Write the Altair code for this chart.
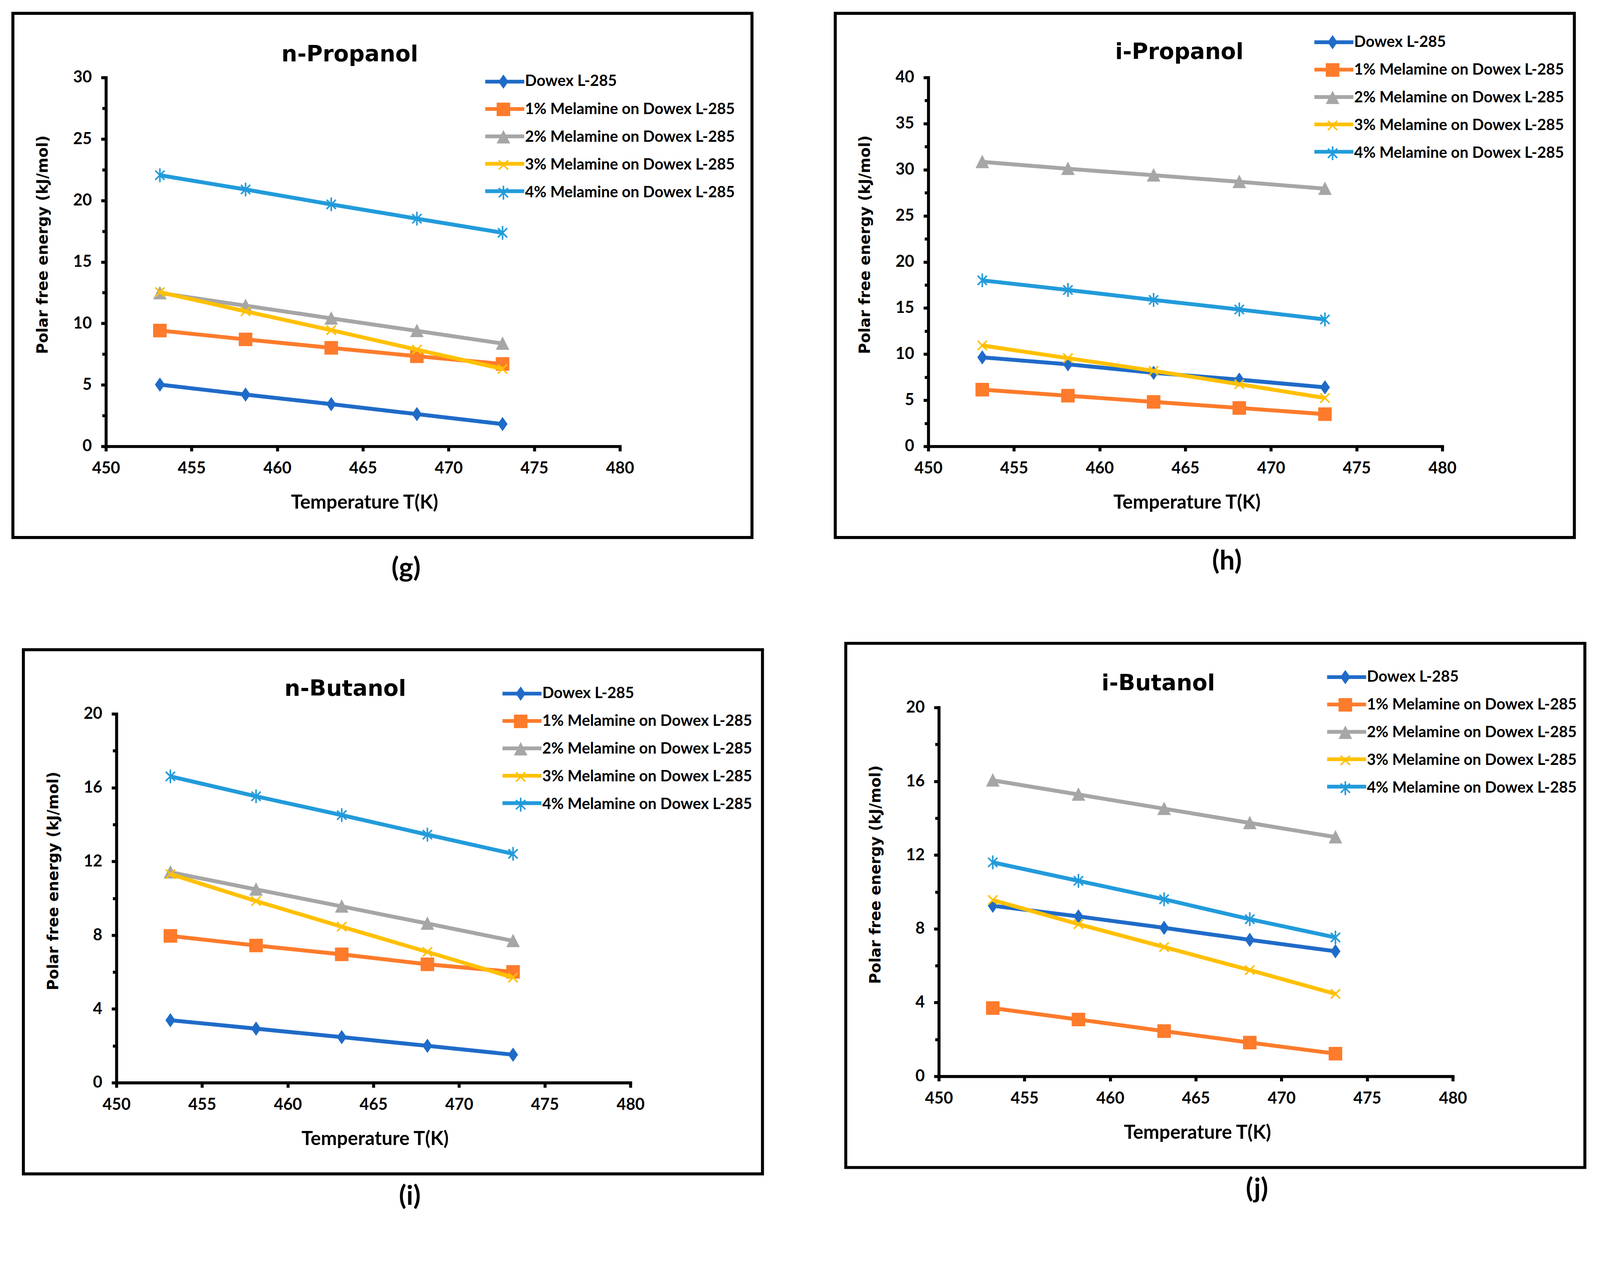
import math
import altair as alt
import pandas as pd

# ---------------- data ----------------
T = [453.15, 458.15, 463.15, 468.15, 473.15]
SERIES = ["Dowex L-285",
          "1% Melamine on Dowex L-285",
          "2% Melamine on Dowex L-285",
          "3% Melamine on Dowex L-285",
          "4% Melamine on Dowex L-285"]
CODES = ["s0", "s1", "s2", "s3", "s4"]
COLORS = ["#1F6BC8", "#FD7B2B", "#A6A6A6", "#FFC000", "#229BDB"]

n_propanol_dowex = [5.02, 4.21, 3.43, 2.62, 1.81]
n_propanol_1 = [9.42, 8.70, 8.01, 7.33, 6.70]
n_propanol_2 = [12.47, 11.44, 10.41, 9.39, 8.36]
n_propanol_3 = [12.54, 10.98, 9.45, 7.86, 6.30]
n_propanol_4 = [22.05, 20.89, 19.68, 18.52, 17.37]

i_propanol_dowex = [9.65, 8.90, 7.98, 7.23, 6.40]
i_propanol_1 = [6.15, 5.49, 4.82, 4.16, 3.49]
i_propanol_2 = [30.85, 30.10, 29.40, 28.69, 27.94]
i_propanol_3 = [10.94, 9.56, 8.19, 6.74, 5.24]
i_propanol_4 = [18.00, 16.96, 15.88, 14.84, 13.76]

n_butanol_dowex = [3.39, 2.93, 2.47, 2.00, 1.52]
n_butanol_1 = [7.96, 7.44, 6.96, 6.42, 6.01]
n_butanol_2 = [11.41, 10.48, 9.56, 8.63, 7.69]
n_butanol_3 = [11.31, 9.85, 8.46, 7.09, 5.70]
n_butanol_4 = [16.61, 15.53, 14.51, 13.45, 12.41]

i_butanol_dowex = [9.25, 8.67, 8.05, 7.40, 6.78]
i_butanol_1 = [3.70, 3.08, 2.45, 1.83, 1.23]
i_butanol_2 = [16.05, 15.28, 14.51, 13.74, 12.97]
i_butanol_3 = [9.56, 8.25, 7.01, 5.76, 4.47]
i_butanol_4 = [11.60, 10.60, 9.60, 8.52, 7.53]

X_TICKS = [450, 455, 460, 465, 470, 475, 480]

# ---------------- marker shapes ----------------
def bar(angle, L, t):
    a = math.radians(angle)
    c, s = math.cos(a), math.sin(a)
    pts = [(-L, -t), (L, -t), (L, t), (-L, t)]
    rp = [(x * c - y * s, x * s + y * c) for x, y in pts]
    return "M" + "L".join(f"{x:.3f},{y:.3f}" for x, y in rp) + "Z"

DIAMOND = "M0,-1L0.7,0L0,1L-0.7,0Z"
SQUARE = "M-0.95,-0.95L0.95,-0.95L0.95,0.95L-0.95,0.95Z"
TRIANGLE = "M0,-1L0.95,0.88L-0.95,0.88Z"
XMARK = bar(45, 0.92, 0.11) + bar(-45, 0.92, 0.11)
ASTER = bar(45, 0.92, 0.11) + bar(-45, 0.92, 0.11) + bar(90, 0.97, 0.11)
SHAPES = [DIAMOND, SQUARE, TRIANGLE, XMARK, ASTER]
MSIZE = 1444  # sqrt -> 38 px

W, H = 1370, 983
LABEL_FONT = "Lato"
BOLD_FONT = "DejaVu Sans"


def panel(name, cap, vals, ymax, major, lx, ly, tx, ty, cx, cy, ghost=None):
    rows = []
    for s, c, v in zip(SERIES, CODES, vals):
        for t, g in zip(T, v):
            rows.append({"T": t, "G": g, "series": s, "code": c})
    df = pd.DataFrame(rows)

    minor = major / 2
    yvals = [round(k * minor, 3) for k in range(int(round(ymax / minor)) + 1)]

    x_axis = alt.Axis(values=X_TICKS, title="Temperature T(K)", format="d",
                      labelFont=LABEL_FONT, labelFontWeight="bold", labelFontSize=43,
                      labelColor="black", labelPadding=25, labelFlush=False, labelOverlap=False,
                      tickSize=13, tickWidth=8, tickColor="black",
                      domainColor="black", domainWidth=8, domainCap="square",
                      titleFont=LABEL_FONT, titleFontSize=51, titleFontWeight="bold",
                      titleColor="black", titleX=W / 2 + 4, titleY=166,
                      titleBaseline="alphabetic", titleAlign="center", grid=False)
    y_axis = alt.Axis(values=yvals, title="Polar free energy (kJ/mol)",
                      labelExpr=f"datum.value % {major} === 0 ? format(datum.value, 'd') : ''",
                      labelFont=LABEL_FONT, labelFontWeight="bold", labelFontSize=43,
                      labelColor="black", labelPadding=25, labelFlush=False, labelOverlap=False,
                      tickSize={"condition": {"test": f"datum.value % {major} === 0", "value": 13}, "value": 10},
                      tickWidth=8, tickColor="black",
                      domainColor="black", domainWidth=8, domainCap="square",
                      titleFont=BOLD_FONT, titleFontSize=40, titleFontWeight="bold",
                      titleColor="black", titleX=-168, titleY=445, titleAngle=270,
                      titleBaseline="middle", titleAlign="center", grid=False)

    xs = alt.X("T:Q", scale=alt.Scale(domain=[450, 480], nice=False, zero=False), axis=x_axis)
    ys = alt.Y("G:Q", scale=alt.Scale(domain=[0, ymax], nice=False), axis=y_axis)

    stroke_scale = alt.Scale(domain=CODES, range=COLORS)
    fill_scale = alt.Scale(domain=SERIES, range=COLORS)
    shape_scale = alt.Scale(domain=SERIES, range=SHAPES)

    line_legend = alt.Legend(orient="none", legendX=lx, legendY=ly, title=None,
                             symbolType="stroke", symbolSize=104 * 104, symbolStrokeWidth=10,
                             labelExpr="''", clipHeight=40, rowPadding=33, padding=0,
                             labelFont=LABEL_FONT, labelFontSize=40, labelFontWeight="bold",
                             labelLimit=2000, symbolOpacity=1, zindex=0)
    mk_legend = alt.Legend(orient="none", legendX=lx, legendY=ly, title=None,
                           symbolSize=MSIZE, symbolStrokeWidth=0, symbolOffset=33,
                           labelOffset=37, clipHeight=40, rowPadding=33, padding=0,
                           labelFont=LABEL_FONT, labelFontSize=41, labelFontWeight="bold",
                           labelColor="black", labelLimit=2000, symbolOpacity=1, zindex=1)

    layers = []
    for s in SERIES:
        base = alt.Chart(df).transform_filter(alt.datum.series == s)
        line = base.mark_line(strokeWidth=10.5).encode(
            x=xs, y=ys,
            stroke=alt.Stroke("code:N", scale=stroke_scale, legend=line_legend))
        pts = base.mark_point(filled=True, size=MSIZE, opacity=1, strokeWidth=0).encode(
            x=xs, y=ys,
            fill=alt.Fill("series:N", scale=fill_scale, legend=mk_legend),
            shape=alt.Shape("series:N", scale=shape_scale, legend=mk_legend))
        layers += [line, pts]

    one = pd.DataFrame({"k": [0]})
    frame = alt.Chart(one).mark_rect(fill="transparent", stroke="black", strokeWidth=8).encode(
        x=alt.value(-248), x2=alt.value(W + 352), y=alt.value(-171), y2=alt.value(H + 243))
    title = alt.Chart(one).mark_text(text=name, font=BOLD_FONT, fontWeight="bold", fontSize=59,
                                     align="center", baseline="alphabetic", color="black").encode(
        x=alt.value(tx), y=alt.value(ty))
    caption = alt.Chart(one).mark_text(text=cap, font=LABEL_FONT, fontWeight="bold", fontSize=72,
                                       align="center", baseline="middle", color="black").encode(
        x=alt.value(cx), y=alt.value(cy))
    extra = [frame, title, caption]
    if ghost:
        gx1, gx2, gy1, gy2 = ghost
        extra.append(alt.Chart(one).mark_rect(opacity=0).encode(
            x=alt.value(gx1), x2=alt.value(gx2), y=alt.value(gy1), y2=alt.value(gy2)))
    return alt.layer(*layers, *extra).properties(width=W, height=H)


g = panel("n-Propanol", "(g)",
          [n_propanol_dowex, n_propanol_1, n_propanol_2, n_propanol_3, n_propanol_4],
          30, 5, 1006, -9, 650, -43, 800, 1308)
h = panel("i-Propanol", "(h)",
          [i_propanol_dowex, i_propanol_1, i_propanol_2, i_propanol_3, i_propanol_4],
          40, 5, 1024, -114, 669, -49, 796, 1290,
          ghost=(W + 356, W + 412, 0, 10))
i = panel("n-Butanol", "(i)",
          [n_butanol_dowex, n_butanol_1, n_butanol_2, n_butanol_3, n_butanol_4],
          20, 4, 1024, -74, 610, -48, 782, 1286)
j = panel("i-Butanol", "(j)",
          [i_butanol_dowex, i_butanol_1, i_butanol_2, i_butanol_3, i_butanol_4],
          20, 4, 1030, -101, 585, -46, 848, 1284,
          ghost=(0, 10, 1300, 1356))

res = dict(stroke="independent", fill="independent", shape="independent")
row1 = alt.hconcat(g, h, spacing=214).resolve_scale(**res).resolve_legend(**res)
row2 = alt.hconcat(i, j, spacing=214, center=True).resolve_scale(**res).resolve_legend(**res)

chart = alt.vconcat(row1, row2, spacing=160, center=True).resolve_scale(**res).resolve_legend(**res).properties(
    padding={"left": 22, "top": -42, "right": 0, "bottom": 0},
    background="white",
).configure_view(stroke=None).configure_axis(grid=False)

chart.save("out.html", embed_options={"renderer": "svg", "actions": False})
